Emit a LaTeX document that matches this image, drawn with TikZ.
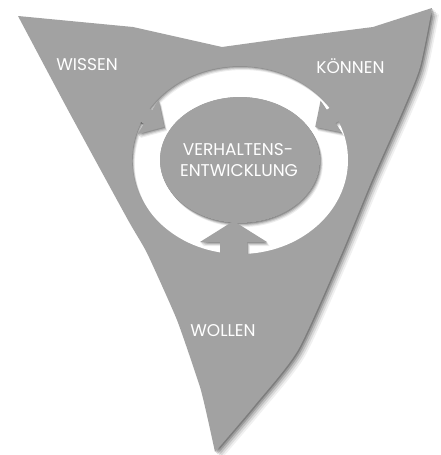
\documentclass[tikz,border=0pt]{standalone}
\usepackage{fontspec}
\setmainfont{Poppins}
\begin{document}
\begin{tikzpicture}[x=1pt,y=-1pt]
\definecolor{tri}{RGB}{162,162,162}
\tikzset{lbl/.style={text=white, font=\fontsize{17}{20}\selectfont, inner sep=0pt, anchor=base}}
\useasboundingbox (0,0) rectangle (440,455);
\fill[white] (0,0) rectangle (440,455);
\def\tripath{(18,16) -- (133,27) -- (222,47) -- (287,38) -- (373,27) -- (432,8) -- plot[smooth, tension=0.4] coordinates {(432,8) (420,67) (403,110) (372,180) (341,255) (298,350) (255,405) (215,452)} -- plot[smooth, tension=0.3] coordinates {(215,452) (208,420) (200,387) (177,320) (147,253) (128,220) (68,110) (18,16)} -- cycle}
\newcommand\setarrow[8]{\def\aMx{#1}\def\aMy{#2}\def\adx{#3}\def\ady{#4}\def\ab{#5}\def\aw{#6}\def\ah{#7}\def\aLb{#8}}
\newcommand\ap[2]{({\aMx+(#1)*(\adx)-(#2)*(\ady)},{\aMy+(#1)*(\ady)+(#2)*(\adx)})}
\def\arrowpoly{\ap{-\aLb}{-\aw} -- \ap{0}{-\aw} -- \ap{0}{-\ab} -- \ap{\ah}{0} -- \ap{0}{\ab} -- \ap{0}{\aw} -- \ap{-\aLb}{\aw} -- cycle}
\newcommand\arrB{\setarrow{233.5}{242}{0}{-1}{33.5}{13.5}{21}{35}}
\newcommand\arrL{\setarrow{148}{117}{0.85}{0.52}{20}{8}{19}{35}}
\newcommand\arrR{\setarrow{331}{116.5}{-0.83}{0.55}{19}{8}{19}{35}}
\def\outerring{(240,160) ellipse [x radius=108, y radius=94]}
\def\innerell{(240,160) ellipse [x radius=80, y radius=63]}
% drop shadow of the triangle
\foreach \o/\op in {7/0.06,5.5/0.09,4/0.13,2.5/0.17,1.2/0.2}{
  \fill[black, opacity=\op, shift={(\o,\o*0.9)}] \tripath;}
\fill[tri] \tripath;
% white ring
\fill[white, even odd rule] \outerring \innerell;
% shadows inside the ring
\begin{scope}
\clip \outerring;
\foreach \o/\op in {4/0.07,3/0.1,2/0.14,1/0.2}{
  \begin{scope}[shift={(\o*0.7,\o)}]
  \fill[black, opacity=\op, even odd rule] (-100,-100) rectangle (600,600) \outerring;
  \fill[black, opacity=\op] \innerell;
  \arrB\fill[black, opacity=\op] \arrowpoly;
  \arrL\fill[black, opacity=\op] \arrowpoly;
  \arrR\fill[black, opacity=\op] \arrowpoly;
  \end{scope}}
\end{scope}
% arrows and central ellipse
\arrB\fill[tri] \arrowpoly;
\arrL\fill[tri] \arrowpoly;
\arrR\fill[tri] \arrowpoly;
\fill[tri] \innerell;
% labels
\node[lbl] (wissen) at (87,70.7) {WISSEN};
\node[lbl] (koennen) at (350.5,73.5) {KÖNNEN};
\node[lbl] (wollen) at (223,336) {WOLLEN};
\node[lbl] (v1) at (238,155) {VERHALTENS-};
\node[lbl] (v2) at (239,176) {ENTWICKLUNG};
\end{tikzpicture}
\end{document}
